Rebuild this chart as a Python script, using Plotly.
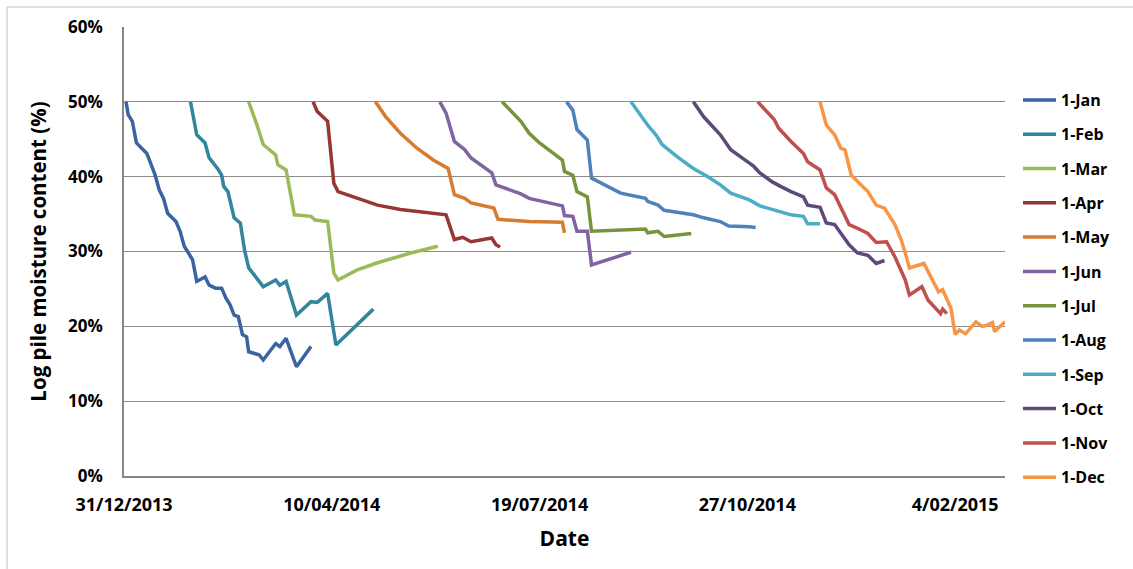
import pandas as pd
import plotly.graph_objects as go

BASE = pd.Timestamp("2013-12-31")

series_names = ["1-Jan", "1-Feb", "1-Mar", "1-Apr", "1-May", "1-Jun",
                "1-Jul", "1-Aug", "1-Sep", "1-Oct", "1-Nov", "1-Dec"]

# days since 31/12/2013, moisture content (%)
jan_days = [1, 2, 4, 6, 11, 13, 15, 17, 19, 21, 25, 27, 29, 33, 35, 39, 41, 44, 47, 49, 51, 53, 55, 57, 59, 60, 62, 65, 67, 73, 75, 78, 83, 90]
jan_vals = [50, 48.3, 47.4, 44.5, 43.1, 41.6, 40.2, 38.2, 37.1, 35.1, 34.0, 32.7, 30.7, 28.9, 26.0, 26.6, 25.5, 25.1, 25.1, 23.8, 22.9, 21.5, 21.3, 18.9, 18.6, 16.6, 16.4, 16.2, 15.5, 17.7, 17.3, 18.4, 14.6, 17.3]

feb_days = [32, 33, 35, 39, 41, 45, 47, 48, 50, 53, 56, 58, 60, 62, 67, 73, 75, 78, 83, 90, 93, 98, 102, 120]
feb_vals = [50, 48.5, 45.6, 44.5, 42.5, 41.1, 40.2, 38.7, 38.0, 34.5, 33.8, 30.2, 27.8, 27.1, 25.3, 26.2, 25.5, 26.0, 21.5, 23.3, 23.2, 24.4, 17.5, 22.3]

mar_days = [60, 62, 64, 67, 73, 74, 78, 82, 90, 92, 98, 101, 103, 112, 122, 138, 151]
mar_vals = [50, 48.5, 46.9, 44.3, 42.9, 41.6, 40.9, 34.9, 34.7, 34.2, 34.0, 27.1, 26.2, 27.5, 28.5, 29.8, 30.7]

apr_days = [91, 93, 98, 101, 103, 120, 122, 133, 155, 159, 163, 167, 177, 179, 181]
apr_vals = [50, 48.7, 47.4, 39.1, 38.0, 36.5, 36.2, 35.6, 34.9, 31.6, 31.9, 31.3, 31.8, 30.9, 30.6]

may_days = [121, 126, 133, 141, 149, 156, 159, 164, 167, 178, 180, 195, 211, 212]
may_vals = [50, 48.0, 45.8, 43.8, 42.2, 41.1, 37.6, 37.1, 36.5, 35.8, 34.3, 34.0, 33.9, 32.5]

jun_days = [152, 155, 159, 164, 167, 177, 179, 191, 195, 211, 212, 216, 218, 223, 225, 244]
jun_vals = [50, 48.5, 44.7, 43.6, 42.5, 40.5, 38.9, 37.7, 37.1, 36.1, 34.8, 34.7, 32.7, 32.7, 28.2, 29.9]

jul_days = [182, 191, 195, 200, 211, 212, 216, 218, 223, 225, 251, 252, 257, 260, 273]
jul_vals = [50, 47.4, 45.8, 44.5, 42.2, 40.7, 40.2, 38.0, 37.3, 32.7, 33.0, 32.5, 32.7, 32.0, 32.4]

aug_days = [213, 216, 218, 223, 225, 239, 251, 252, 257, 260, 274, 279, 287, 291, 301, 304]
aug_vals = [50, 48.9, 46.3, 44.9, 39.8, 37.8, 37.1, 36.7, 36.2, 35.5, 34.9, 34.5, 34.0, 33.4, 33.3, 33.2]

sep_days = [244, 252, 256, 259, 266, 274, 281, 287, 292, 301, 306, 313, 321, 327, 329, 335]
sep_vals = [50, 46.9, 45.6, 44.3, 42.7, 41.1, 40.0, 38.9, 37.8, 36.9, 36.1, 35.5, 34.9, 34.7, 33.7, 33.7]

oct_days = [274, 279, 287, 292, 301, 303, 306, 312, 316, 321, 327, 329, 335, 338, 342, 346, 349, 353, 358, 362, 366]
oct_vals = [50, 48.0, 45.6, 43.6, 41.8, 41.4, 40.5, 39.3, 38.7, 38.0, 37.3, 36.2, 35.9, 33.8, 33.6, 32.0, 30.9, 29.8, 29.5, 28.4, 28.8]

nov_days = [305, 313, 315, 321, 327, 329, 335, 338, 342, 346, 349, 353, 358, 362, 367, 371, 374, 376, 378, 384, 387, 391, 393, 394, 396]
nov_vals = [50, 47.6, 46.5, 44.7, 43.1, 42.0, 40.9, 38.5, 37.6, 35.3, 33.6, 33.1, 32.4, 31.2, 31.3, 29.3, 27.5, 26.2, 24.2, 25.3, 23.5, 22.2, 21.7, 22.3, 21.7]

dec_days = [335, 338, 342, 345, 347, 350, 354, 358, 362, 366, 371, 374, 376, 378, 385, 389, 392, 394, 398, 400, 402, 405, 410, 413, 415, 418, 419, 424]
dec_vals = [50, 46.9, 45.6, 43.8, 43.6, 40.2, 39.1, 38.0, 36.2, 35.8, 33.6, 31.6, 29.8, 27.8, 28.4, 26.2, 24.6, 24.9, 22.4, 18.9, 19.5, 19.0, 20.6, 20.0, 20.1, 20.5, 19.3, 20.6]

all_days = [jan_days, feb_days, mar_days, apr_days, may_days, jun_days,
            jul_days, aug_days, sep_days, oct_days, nov_days, dec_days]
all_vals = [jan_vals, feb_vals, mar_vals, apr_vals, may_vals, jun_vals,
            jul_vals, aug_vals, sep_vals, oct_vals, nov_vals, dec_vals]

colors = ["#3A64A0", "#31859C", "#9BBB59", "#953735", "#D77B30", "#8064A2",
          "#77933C", "#4F81BD", "#4BACC6", "#5F497A", "#C0504D", "#F79646"]

x_tick_dates = ["2013-12-31", "2014-04-10", "2014-07-19", "2014-10-27", "2015-02-04"]
x_tick_text = ["31/12/2013", "10/04/2014", "19/07/2014", "27/10/2014", "4/02/2015"]
y_ticks = [0, 10, 20, 30, 40, 50, 60]
y_tick_text = ["0%", "10%", "20%", "30%", "40%", "50%", "60%"]

FONT = "Open Sans"

fig = go.Figure()
for name, d, v, c in zip(series_names, all_days, all_vals, colors):
    dates = BASE + pd.to_timedelta(d, unit="D")
    fig.add_trace(go.Scatter(x=dates, y=v, mode="lines", name=name,
                             legendgroup=name,
                             line=dict(color=c, width=3.5)))

W, H = 1133, 569
L, R, T, B = 124, 128, 27, 93
pw = W - L - R
ph = H - T - B

fig.update_layout(
    width=W, height=H,
    margin=dict(l=L, r=R, t=T, b=B, autoexpand=False),
    paper_bgcolor="white", plot_bgcolor="white",
    font=dict(family=FONT, size=17, color="black", weight="bold"),
    showlegend=True,
    legend=dict(x=1.0 + (1018 - 1005) / pw, xanchor="left",
                y=1 - (83 - T) / ph, yanchor="top",
                font=dict(family=FONT, size=16, color="black", weight="bold"),
                itemwidth=33,
                tracegroupgap=10.5, bgcolor="rgba(0,0,0,0)"),
    xaxis=dict(type="date", automargin=False,
               range=[BASE, BASE + pd.Timedelta(days=424)],
               tickvals=x_tick_dates, ticktext=x_tick_text,
               showgrid=False, zeroline=False,
               showline=True, linecolor="#868686", linewidth=1.5,
               ticks="", ticklabelstandoff=12,
               tickfont=dict(family=FONT, size=18, weight="bold"),
               title=dict(text="Date", standoff=16,
                          font=dict(family=FONT, size=21, weight="bold"))),
    yaxis=dict(range=[0, 60], tickvals=y_ticks, ticktext=y_tick_text,
               automargin=False,
               showgrid=True, gridcolor="#8C8C8C", gridwidth=1.3,
               zeroline=False,
               showline=True, linecolor="#868686", linewidth=1.5,
               ticks="", ticklabelstandoff=16,
               tickfont=dict(family=FONT, size=17, weight="bold"),
               title=dict(text="Log pile moisture content (%)", standoff=16,
                          font=dict(family=FONT, size=20.5, weight="bold"))),
)

# outer chart border (only top/left visible in the frame)
fig.add_shape(type="rect", xref="paper", yref="paper",
              x0=(7 - L) / pw, x1=(W + 10 - L) / pw,
              y0=-(H + 10 - T - ph) / ph, y1=1 + (T - 7) / ph,
              line=dict(color="#BFBFBF", width=1), layer="below")

fig.write_html("out.html",
               config={"displayModeBar": False},
               post_script="document.body.style.margin='0';")
